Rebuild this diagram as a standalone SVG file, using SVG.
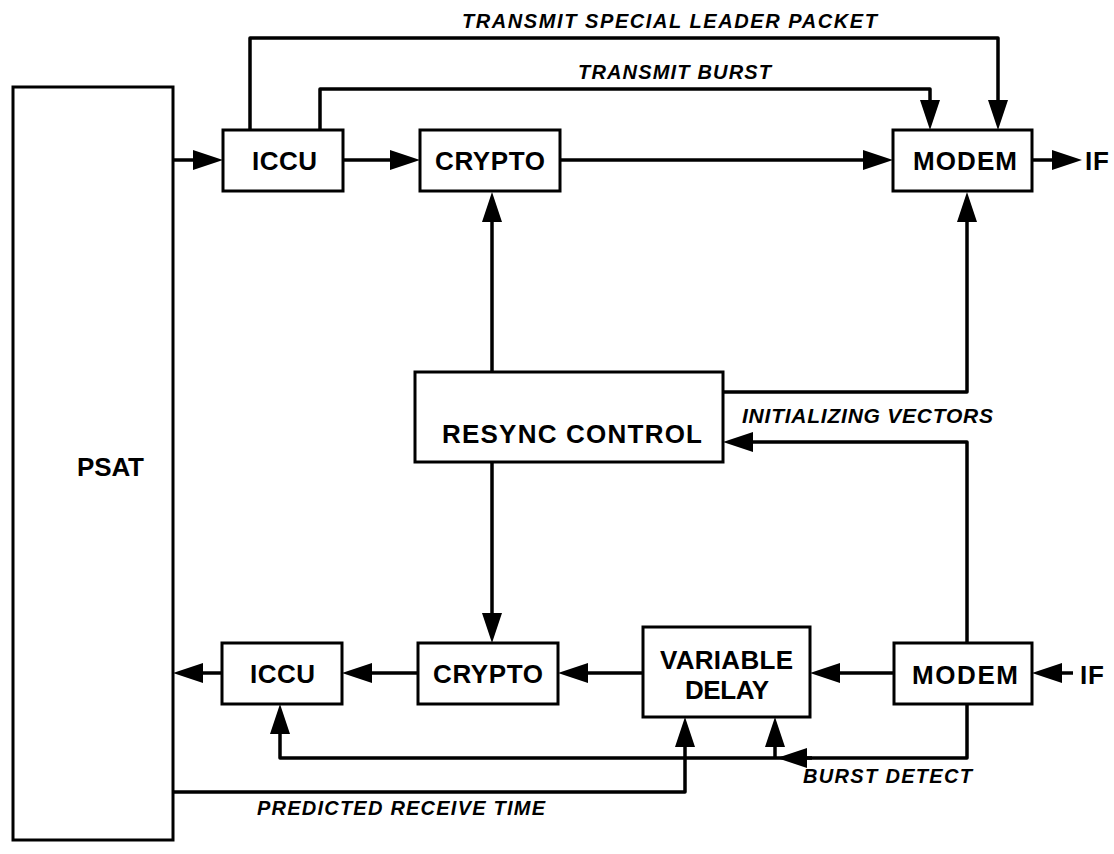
<svg xmlns="http://www.w3.org/2000/svg" width="1114" height="854" viewBox="0 0 1114 854">
<style>
.box{fill:#fff;stroke:#000;stroke-width:3}
.lbl{font-family:"Liberation Sans",Arial,sans-serif;font-weight:bold;font-size:26px;fill:#000}
.it{font-family:"Liberation Sans",Arial,sans-serif;font-weight:bold;font-style:italic;font-size:20px;fill:#000}
.ln{fill:none;stroke:#000;stroke-width:3.5;stroke-linejoin:round}
.ar{marker-end:url(#ah)}
</style>
<defs>
<marker id="ah" viewBox="0 0 30 20" refX="22" refY="10" markerWidth="30" markerHeight="20" markerUnits="userSpaceOnUse" orient="auto">
<path d="M0,0 L30,10 L0,20 Z" fill="#000"/>
</marker>
</defs>
<rect width="1114" height="854" fill="#fff"/>
<g id="connectors">
<path class="ln ar" d="M173,160 H215"/>
<path class="ln ar" d="M343,160 H412"/>
<path class="ln ar" d="M560,160 H885"/>
<path class="ln ar" d="M1032,160 H1074"/>
<path class="ln ar" d="M250,130 V38 H998 V122"/>
<path class="ln ar" d="M320,130 V89 H930 V122"/>
<path class="ln ar" d="M492,372 V200"/>
<path class="ln ar" d="M492,462 V635"/>
<path class="ln ar" d="M723,392 H967 V200"/>
<path class="ln ar" d="M967,643 V442 H731"/>
<path class="ln ar" d="M894,673 H818"/>
<path class="ln ar" d="M643,673 H566"/>
<path class="ln ar" d="M418,673 H350"/>
<path class="ln ar" d="M222,673 H181"/>
<path class="ln ar" d="M1073,673 H1040"/>
<path class="ln ar" d="M967,704 V758 H280 V712"/>
<path class="ln ar" d="M812,758 H785"/>
<path class="ln ar" d="M775,758 V725"/>
<path class="ln ar" d="M173,792 H685 V725"/>
</g>
<g id="psat"><rect class="box" x="13" y="87" width="160" height="753"/><text class="lbl" x="77" y="476" textLength="67">PSAT</text></g>
<g id="iccu-tx"><rect class="box" x="223" y="130" width="120" height="61"/><text class="lbl" x="252" y="170" textLength="65">ICCU</text></g>
<g id="crypto-tx"><rect class="box" x="420" y="130" width="140" height="61"/><text class="lbl" x="435" y="170" textLength="110">CRYPTO</text></g>
<g id="modem-tx"><rect class="box" x="893" y="130" width="139" height="61"/><text class="lbl" x="913" y="170" textLength="104">MODEM</text></g>
<g id="if-tx"><text class="lbl" x="1085" y="170" textLength="24">IF</text></g>
<g id="resync"><rect class="box" x="415" y="372" width="308" height="90"/><text class="lbl" x="442" y="443" textLength="260">RESYNC CONTROL</text></g>
<g id="iccu-rx"><rect class="box" x="222" y="643" width="120" height="61"/><text class="lbl" x="250" y="683" textLength="65">ICCU</text></g>
<g id="crypto-rx"><rect class="box" x="418" y="643" width="140" height="61"/><text class="lbl" x="433" y="683" textLength="110">CRYPTO</text></g>
<g id="vardelay"><rect class="box" x="643" y="627" width="167" height="90"/><text class="lbl" x="660" y="669" textLength="133">VARIABLE</text><text class="lbl" x="685" y="699" textLength="84">DELAY</text></g>
<g id="modem-rx"><rect class="box" x="894" y="643" width="138" height="61"/><text class="lbl" x="912" y="684" textLength="106">MODEM</text></g>
<g id="if-rx"><text class="lbl" x="1080" y="684" textLength="24">IF</text></g>
<g id="labels">
<text class="it" x="462" y="28" textLength="415">TRANSMIT SPECIAL LEADER PACKET</text>
<text class="it" x="578" y="79" textLength="193">TRANSMIT BURST</text>
<text class="it" x="742" y="423" textLength="251" style="font-size:21px">INITIALIZING VECTORS</text>
<text class="it" x="803" y="783" textLength="169">BURST DETECT</text>
<text class="it" x="257" y="815" textLength="288">PREDICTED RECEIVE TIME</text>
</g>
</svg>
